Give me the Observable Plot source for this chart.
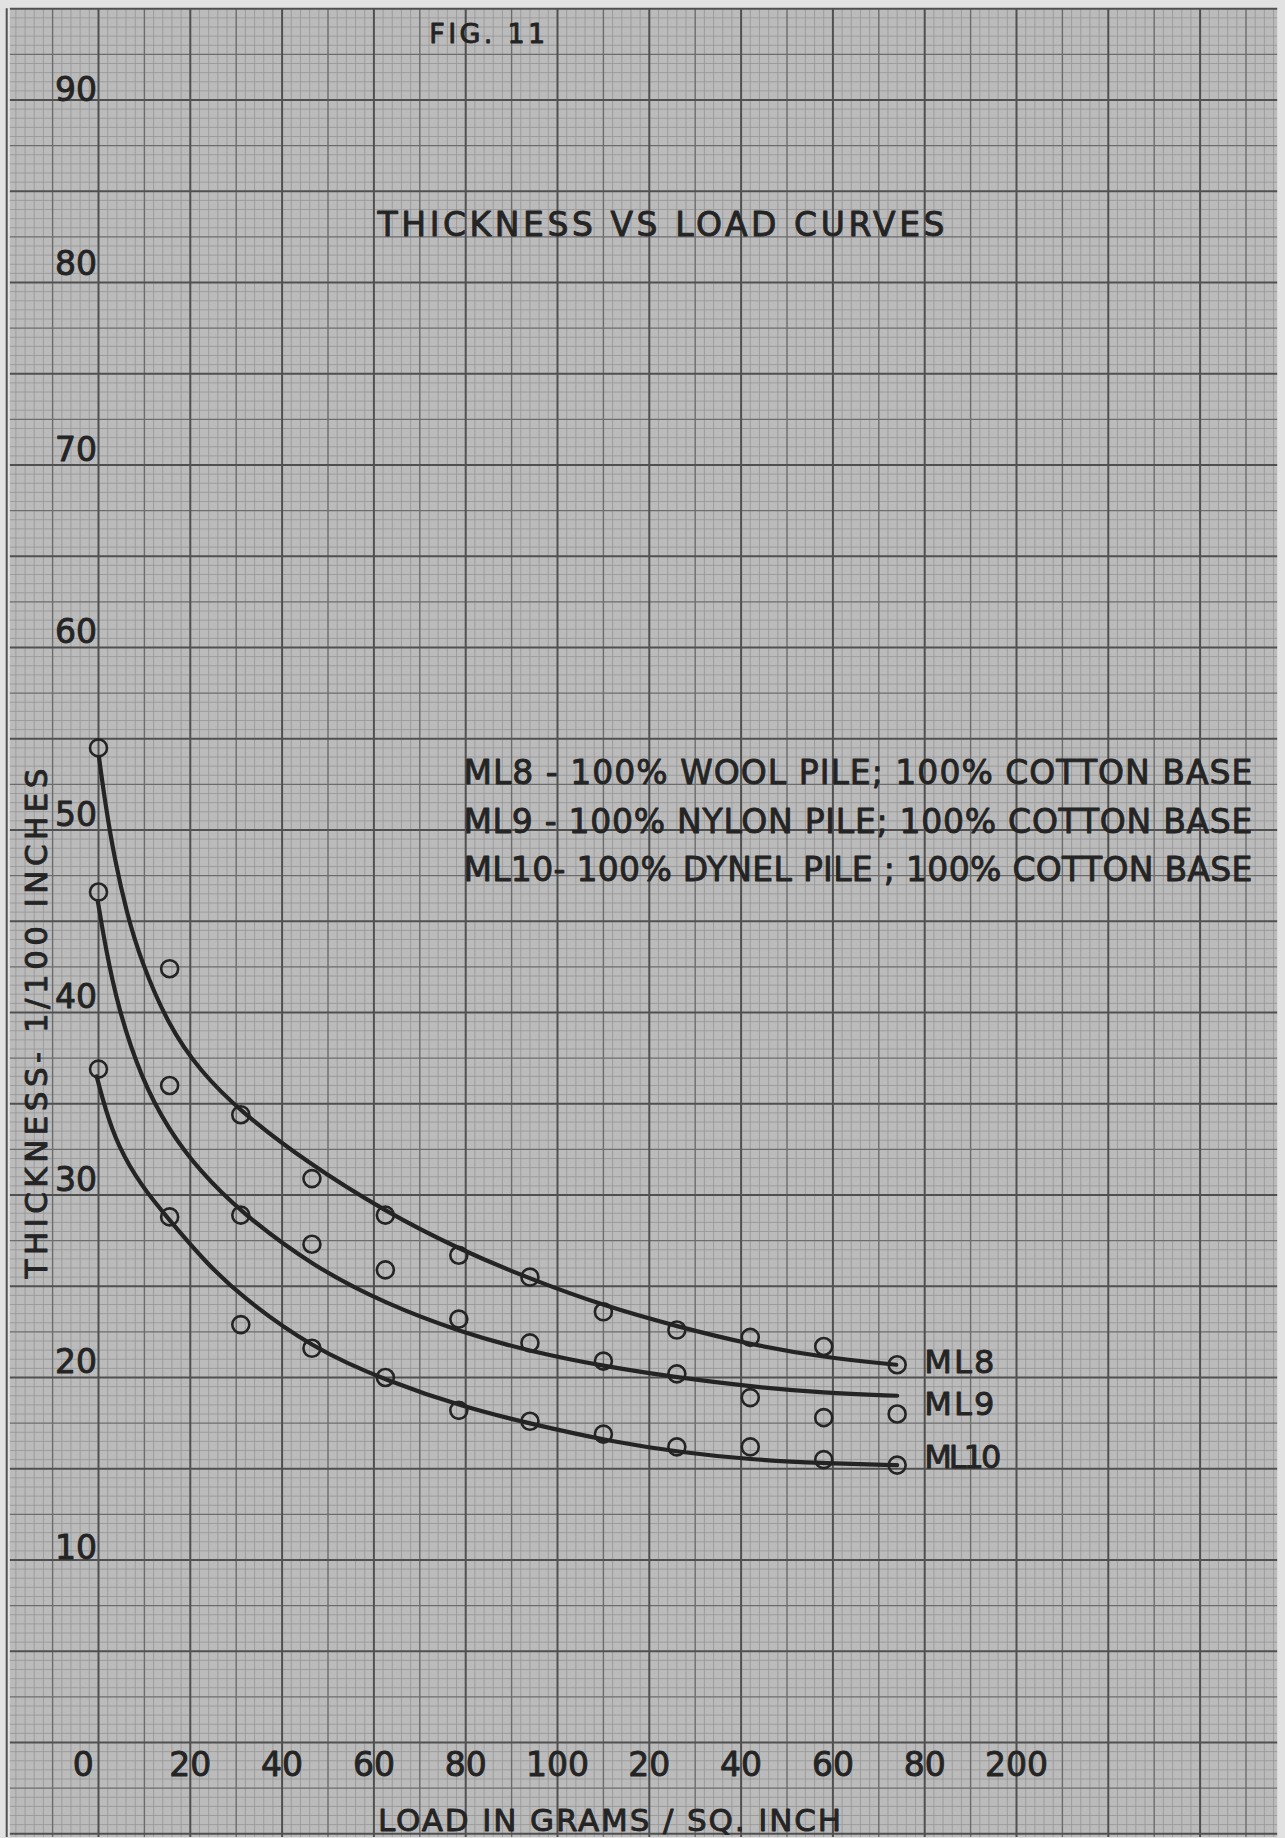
<!DOCTYPE html>
<html><head><meta charset="utf-8">
<script src="https://cdn.jsdelivr.net/npm/d3@7"></script>
<script src="https://cdn.jsdelivr.net/npm/@observablehq/plot@0.6"></script>
<style>
html,body{margin:0;padding:0;background:#e2e2e2;}
#chart{width:1285px;height:1838px;overflow:hidden;}
svg{display:block;}
</style></head><body><div id="chart"></div>
<script>
// ---- data ----
const loads = [0, 15.5, 31, 46.5, 62.5, 78.5, 94, 110, 126, 142, 158, 174];
const ml8  = [54.5, 42.4, 34.4, 30.9, 28.9, 26.7, 25.5, 23.6, 22.6, 22.2, 21.7, 20.7];
const ml9  = [46.6, 36.0, 28.9, 27.3, 25.9, 23.2, 21.9, 20.9, 20.2, 18.9, 17.8, 18.0];
const ml10 = [36.9, 28.8, 22.9, 21.6, 20.0, 18.2, 17.6, 16.9, 16.2, 16.2, 15.5, 15.2];

// hand-drawn fitted curves, read as sample points
const curve8Load  = [0.1, 1.5, 3.5, 6.2, 9.3, 15.2, 22.1, 30.8, 45.3, 62.4, 78.8, 94.0, 110.4, 126.0, 142.1, 158.0, 173.8];
const curve8Thk   = [54.0, 51.4, 48.4, 45.4, 42.8, 39.3, 36.8, 34.6, 31.8, 29.1, 27.0, 25.4, 23.9, 22.8, 21.8, 21.1, 20.7];
const curve9Load  = [-0.15, 1.5, 4.2, 9.3, 15.2, 22.1, 30.8, 46.6, 62.9, 78.8, 94.4, 110.4, 126.0, 142.1, 158.0, 174.0];
const curve9Thk   = [46.1, 43.6, 40.3, 36.4, 33.6, 31.3, 29.1, 26.1, 24.0, 22.5, 21.4, 20.6, 20.0, 19.5, 19.15, 19.0];
const curve10Load = [-0.4, 1.5, 4.2, 9.3, 15.2, 23.4, 30.8, 46.6, 63.0, 79.3, 95.1, 111.5, 126.8, 142.1, 157.5, 174.0];
const curve10Thk  = [36.5, 34.7, 32.7, 30.5, 28.7, 26.3, 24.5, 21.6, 19.8, 18.4, 17.4, 16.5, 15.9, 15.5, 15.3, 15.2];

const seriesNames = ["ML8", "ML9", "ML10"];
const xTickValues = [0, 20, 40, 60, 80, 100, 120, 140, 160, 180, 200];
const xTickLabels = ["0", "20", "40", "60", "80", "100", "20", "40", "60", "80", "200"];
const yTickValues = [10, 20, 30, 40, 50, 60, 70, 80, 90];
const yTickLabels = ["10", "20", "30", "40", "50", "60", "70", "80", "90"];
const legendLines = [
  "ML8 - 100% WOOL PILE; 100% COTTON BASE",
  "ML9 - 100% NYLON PILE; 100% COTTON BASE",
  "ML10- 100% DYNEL PILE ; 100% COTTON BASE"
];
const titleText = "THICKNESS VS LOAD CURVES";
const figText = "FIG. 11";
const xTitle = "LOAD IN GRAMS / SQ. INCH";
const yTitle = "THICKNESS- 1/100 INCHES";

// ---- build tables ----
const points = [
  ...loads.map((l, i) => ({series: "ML8", load: l, thk: ml8[i]})),
  ...loads.map((l, i) => ({series: "ML9", load: l, thk: ml9[i]})),
  ...loads.map((l, i) => ({series: "ML10", load: l, thk: ml10[i]}))
];
const curves = [
  ...curve8Load.map((l, i) => ({series: "ML8", load: l, thk: curve8Thk[i]})),
  ...curve9Load.map((l, i) => ({series: "ML9", load: l, thk: curve9Thk[i]})),
  ...curve10Load.map((l, i) => ({series: "ML10", load: l, thk: curve10Thk[i]}))
];

// graph paper
const X0 = -19.2, X1 = 256.9, Y0 = -5.2, Y1 = 95.0;
const xGrid = d3.range(-20, 258, 2);
const yGrid = d3.range(-5, 95.01, 0.5);
const isMult = (v, m) => Math.abs(v / m - Math.round(v / m)) < 1e-6;
const xHeavy = xGrid.filter(v => isMult(v, 20));
const xMed = xGrid.filter(v => !isMult(v, 20) && isMult(v, 10));
const xFine = xGrid.filter(v => !isMult(v, 10));
const yHeavy = yGrid.filter(v => isMult(v, 5));
const yMed = yGrid.filter(v => !isMult(v, 5) && isMult(v, 2.5));
const yFine = yGrid.filter(v => !isMult(v, 2.5));

const ink = "#242424";
const paper = "#bbbbbb";
const fineC = "#959595", medC = "#6c6c6c", heavyC = "#505050";
const font = "DejaVu Sans";

const endLabelY = [20.8, 18.5, 15.6];
const legendY = [53.1, 50.4, 47.8];
const yTickShift = [-0.19, 0, 0, 0, 0, 0, 0, 0.17, -0.3];
const txt = {fill: ink, stroke: ink, strokeWidth: 0.9};

const chart = Plot.plot({
  width: 1285,
  height: 1838,
  margin: 0,
  style: {fontFamily: font, background: "transparent"},
  x: {domain: [0, 200], range: [98, 1016], axis: null},
  y: {domain: [0, 90], range: [1742, 99.5], axis: null},
  marks: [
    Plot.rect([0], {x1: () => X0, x2: () => X1, y1: () => Y0, y2: () => Y1, fill: paper}),
    Plot.ruleX(xFine, {x: d => d, y1: () => Y0, y2: () => Y1, stroke: fineC, strokeWidth: 0.8}),
    Plot.ruleY(yFine, {y: d => d, x1: () => X0, x2: () => X1, stroke: fineC, strokeWidth: 0.8}),
    Plot.ruleX(xMed, {x: d => d, y1: () => Y0, y2: () => Y1, stroke: medC, strokeWidth: 1.4}),
    Plot.ruleY(yMed, {y: d => d, x1: () => X0, x2: () => X1, stroke: medC, strokeWidth: 1.4}),
    Plot.ruleX(xHeavy, {x: d => d, y1: () => Y0, y2: () => Y1, stroke: heavyC, strokeWidth: 2}),
    Plot.ruleY(yHeavy, {y: d => d, x1: () => X0, x2: () => X1, stroke: heavyC, strokeWidth: 2}),
    // curves
    Plot.line(curves, {x: "load", y: "thk", z: "series", curve: "basis", stroke: ink, strokeWidth: 4.2}),
    // data points
    Plot.dot(points, {x: "load", y: "thk", r: 8.5, stroke: ink, strokeWidth: 2.6, fill: "none"}),
    // tick labels
    Plot.text(xTickValues, {x: (d, i) => i === 0 ? -3.3 : d, y: () => -1.26, text: (d, i) => xTickLabels[i], fontSize: 33, ...txt}),
    Plot.text(yTickValues, {x: () => -0.3, y: (d, i) => d + yTickShift[i], text: (d, i) => yTickLabels[i], textAnchor: "end", dy: -15, fontSize: 33, ...txt}),
    // end labels
    Plot.text(seriesNames, {x: () => 179.9, y: (d, i) => endLabelY[i], text: d => d, textAnchor: "start", fontSize: 32, ...txt}),
    // legend block
    Plot.text(legendLines, {x: () => 79.5, y: (d, i) => legendY[i], text: d => d, textAnchor: "start", fontSize: 33, ...txt}),
    // title
    Plot.text([titleText], {x: () => 60.8, y: () => 83.1, text: d => d, textAnchor: "start", fontSize: 33, ...txt}),
    Plot.text([figText], {x: () => 84.7, y: () => 93.6, text: d => d, fontSize: 27, ...txt}),
    // axis titles
    Plot.text([xTitle], {x: () => 60.9, y: () => -4.3, text: d => d, textAnchor: "start", fontSize: 31, ...txt}),
    Plot.text([yTitle], {x: () => -13.3, y: () => 39.4, text: d => d, rotate: -90, fontSize: 31, ...txt})
  ]
});
document.getElementById("chart").appendChild(chart);
// stretch the hand-lettered strings to the widths they take in the reference
const lengths = new Map([
  [legendLines[0], 789], [legendLines[1], 789], [legendLines[2], 789],
  [titleText, 567], [xTitle, 463], [yTitle, 510], [figText, 116],
  ["ML8", 70], ["ML9", 70], ["ML10", 77]
]);
d3.select(chart).selectAll("text").each(function() {
  const t = this.textContent;
  if (this.childElementCount === 0 && lengths.has(t)) {
    this.setAttribute("textLength", lengths.get(t));
    this.setAttribute("lengthAdjust", "spacing");
  }
});
</script></body></html>
